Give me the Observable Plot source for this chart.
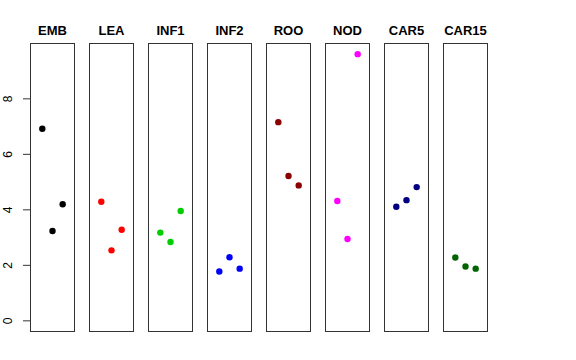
<!DOCTYPE html>
<html>
<head>
<meta charset="utf-8">
<script src="https://cdn.jsdelivr.net/npm/d3@7"></script>
<script src="https://cdn.jsdelivr.net/npm/@observablehq/plot@0.6"></script>
<style>
  html, body { margin: 0; padding: 0; background: #fff; }
  svg { font-family: "Liberation Sans", Arial, sans-serif; }
</style>
</head>
<body>
<div id="chart"></div>
<script>
const groups = ["EMB", "LEA", "INF1", "INF2", "ROO", "NOD", "CAR5", "CAR15"];
const groupColors = ["#000000", "#FF0000", "#00CD00", "#0000FF", "#8B0000", "#FF00FF", "#000080", "#006400"];
const rep1 = [6.92, 4.29, 3.18, 1.78, 7.16, 4.32, 4.11, 2.28];
const rep2 = [3.24, 2.54, 2.84, 2.29, 5.22, 2.95, 4.35, 1.96];
const rep3 = [4.20, 3.28, 3.96, 1.88, 4.88, 9.61, 4.82, 1.88];
const yTicks = [0, 2, 4, 6, 8];

const data = [];
groups.forEach((g, i) => {
  [rep1, rep2, rep3].forEach((rep, j) => {
    data.push({group: g, rep: j + 1, value: rep[i]});
  });
});

const chart = Plot.plot({
  width: 576,
  height: 360,
  marginLeft: 29,
  marginRight: 88,
  marginTop: 43,
  marginBottom: 29,
  style: {fontFamily: "Liberation Sans, Arial, sans-serif", fontSize: "12px", background: "#fff"},
  fx: {domain: groups, paddingInner: 0.246, paddingOuter: 0, label: null},
  x: {domain: [-0.16, 4.16], axis: null},
  y: {domain: [-0.384, 9.994], label: null},
  color: {domain: groups, range: groupColors},
  marks: [
    Plot.frame({stroke: "#333", strokeWidth: 1}),
    Plot.axisFx({anchor: "top", tickSize: 0, tickPadding: 9, fontSize: 13, fontWeight: "bold", label: null}),
    Plot.axisY({ticks: yTicks, tickSize: 7, tickRotate: -90, tickPadding: 12, label: null, fontSize: 12, strokeOpacity: 0.8}),
    Plot.dot(data, {fx: "group", x: "rep", y: "value", fill: (d) => d.group, r: 3.2, stroke: null})
  ]
});
document.getElementById("chart").appendChild(chart);
</script>
</body>
</html>
